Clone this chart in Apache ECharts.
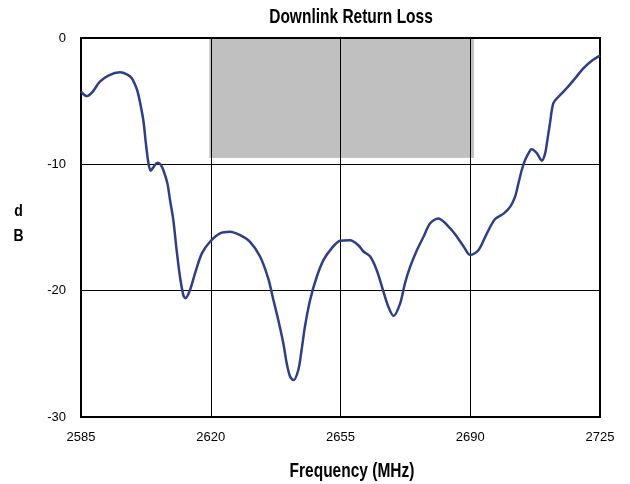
<!DOCTYPE html>
<html>
<head>
<meta charset="utf-8">
<script src="https://cdn.jsdelivr.net/npm/echarts@6/dist/echarts.min.js"></script>
<style>html,body{margin:0;padding:0;background:#fff}#c{width:630px;height:484px}</style>
</head>
<body>
<div id="c"></div>
<script>
var freqMHz = [2585.0,2586.5,2588.0,2590.1,2592.5,2595.5,2597.5,2598.7,2600.0,2600.6,2601.8,2602.5,2603.2,2603.8,2604.6,2605.6,2606.4,2607.2,2608.3,2609.0,2609.9,2610.8,2611.7,2612.6,2613.2,2614.4,2615.8,2617.6,2619.8,2622.5,2625.2,2627.9,2630.6,2633.3,2635.5,2636.9,2638.2,2639.6,2640.5,2641.4,2642.3,2643.6,2644.5,2645.4,2646.8,2648.6,2650.4,2652.6,2654.9,2657.6,2659.8,2661.2,2663.0,2664.8,2666.6,2667.9,2669.3,2671.1,2672.4,2673.8,2675.6,2677.4,2679.2,2681.4,2684.6,2686.4,2688.2,2690.0,2692.2,2694.5,2696.7,2699.0,2700.8,2702.1,2703.0,2703.9,2704.8,2706.2,2706.6,2708.0,2709.3,2710.2,2710.8,2711.5,2712.4,2713.8,2716.0,2718.3,2720.5,2722.8,2725.0];
var returnLossDb = [-4.25,-4.6,-4.3,-3.46,-2.95,-2.72,-2.9,-3.19,-4.0,-4.64,-6.49,-8.34,-9.92,-10.5,-10.2,-9.87,-10.0,-10.45,-11.5,-12.8,-14.4,-16.8,-18.9,-20.35,-20.6,-19.95,-18.6,-17.05,-16.13,-15.46,-15.33,-15.6,-16.13,-17.3,-19.03,-20.74,-22.3,-24.2,-25.76,-26.8,-27.08,-26.3,-24.7,-22.86,-20.74,-18.9,-17.58,-16.65,-16.05,-16.0,-16.4,-16.9,-17.3,-18.4,-20.1,-21.27,-22.0,-21.0,-19.4,-18.1,-16.8,-15.73,-14.67,-14.28,-15.07,-15.73,-16.5,-17.18,-16.8,-15.46,-14.33,-13.9,-13.35,-12.56,-11.5,-10.45,-9.66,-8.87,-8.8,-9.13,-9.71,-9.13,-8.08,-6.76,-5.17,-4.65,-3.98,-3.19,-2.4,-1.8,-1.4];
var bandFreq = [2619.6, 2691.0];
var bandDb = [0, -9.5];
var xTicks = [2585, 2620, 2655, 2690, 2725];
var yTicks = [0, -10, -20, -30];

var chart = echarts.init(document.getElementById('c'));
var pts = freqMHz.map(function (f, i) { return [f, returnLossDb[i]]; });
var FONT = '"Liberation Sans", Arial, sans-serif';
function label(text, x, y, size, sy) {
  return { type: 'text', x: x, y: y, scaleY: sy, z: 10,
    style: { text: text, font: 'bold ' + size + 'px ' + FONT, fill: '#000', textAlign: 'center', textVerticalAlign: 'middle' } };
}
chart.setOption({
  animation: false,
  graphic: [
    label('Downlink Return Loss', 351, 18, 15.5, 1.25),
    label('d', 18.5, 211, 14, 1.2),
    label('B', 18.5, 236, 14, 1.2),
    label('Frequency (MHz)', 352, 472, 15.5, 1.25)
  ],
  grid: { left: 81, right: 30, top: 38, bottom: 67, show: true, borderColor: '#000', borderWidth: 2, z: 2 },
  xAxis: {
    type: 'value', min: xTicks[0], max: xTicks[xTicks.length - 1], interval: 35, z: 2,
    axisLine: { show: true, lineStyle: { color: '#000', width: 2 } },
    axisTick: { show: false },
    axisLabel: { fontFamily: FONT, fontSize: 13, color: '#000', margin: 14, formatter: function (v) { return String(v); } },
    splitLine: { show: true, lineStyle: { color: '#000', width: 1 } }
  },
  yAxis: {
    type: 'value', min: yTicks[yTicks.length - 1], max: yTicks[0], interval: 10, z: 2,
    axisLine: { show: true, lineStyle: { color: '#000', width: 2 } },
    axisTick: { show: false },
    axisLabel: { fontFamily: FONT, fontSize: 13, color: '#000', margin: 15, formatter: function (v) { return String(v); } },
    splitLine: { show: true, lineStyle: { color: '#000', width: 1 } }
  },
  series: [
    {
      type: 'line', data: [], z: 1, silent: true,
      markArea: {
        silent: true,
        itemStyle: { color: '#c0c0c0', opacity: 1 },
        data: [[{ coord: [bandFreq[0], bandDb[0]] }, { coord: [bandFreq[1], bandDb[1]] }]]
      }
    },
    {
      type: 'line', data: pts, z: 5, smooth: 0.3, showSymbol: false,
      lineStyle: { color: '#2f3f85', width: 2.5 }
    }
  ]
});
</script>
</body>
</html>
